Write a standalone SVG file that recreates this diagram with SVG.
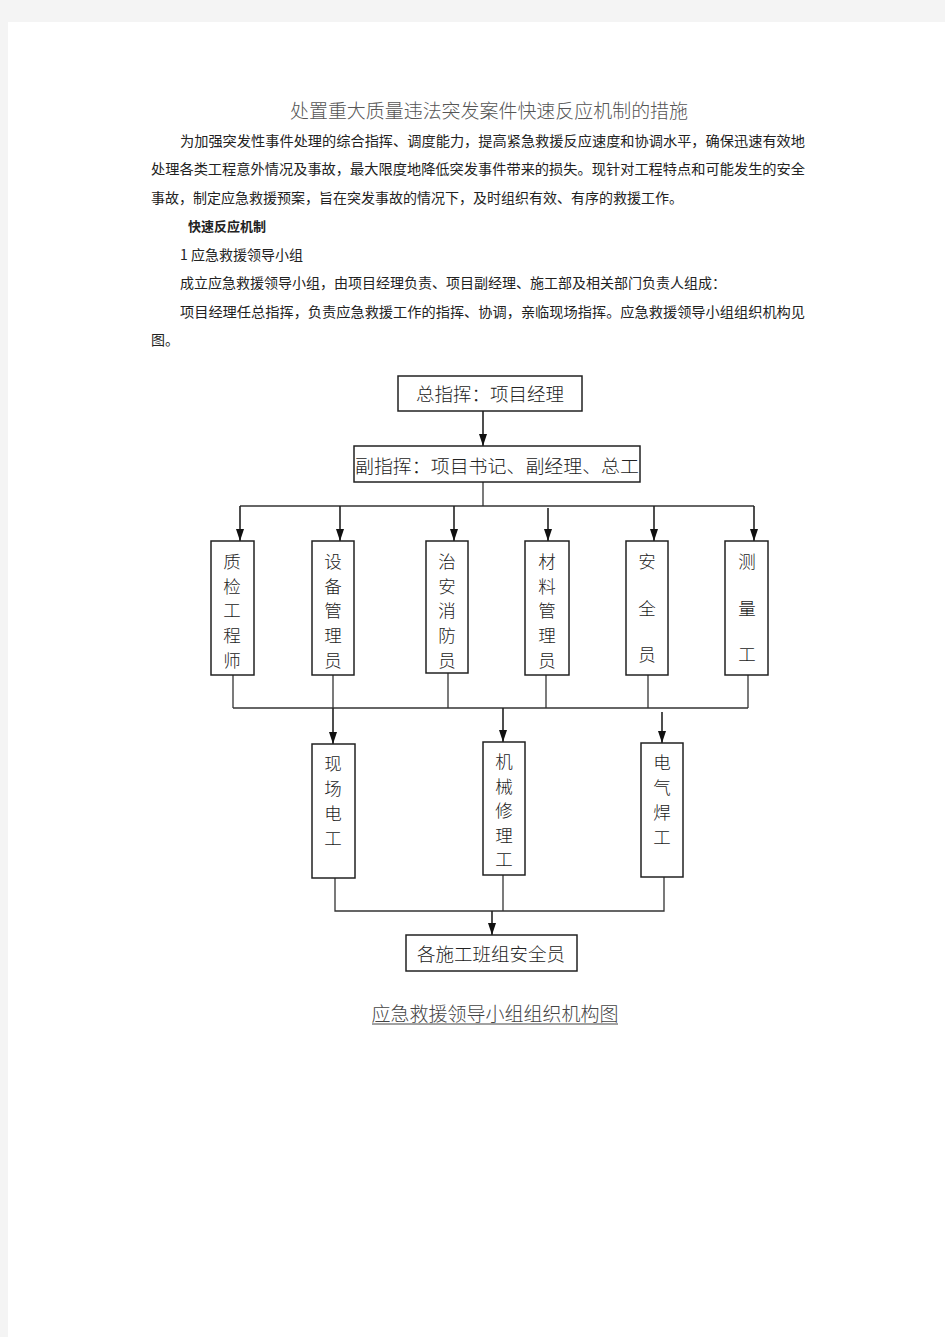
<svg xmlns="http://www.w3.org/2000/svg" width="945" height="1337" viewBox="0 0 945 1337">
<style>
.body{font-family:"Noto Sans CJK SC","Noto Sans",sans-serif;font-size:14px;fill:#222;}
.bold{font-weight:bold;font-size:13px;}
.title{font-family:"Noto Sans CJK SC",sans-serif;font-weight:300;font-size:19px;fill:#555;}
.box{fill:#fff;stroke:#222;stroke-width:1.5;}
.lbl{font-family:"Noto Sans CJK SC",sans-serif;font-weight:300;font-size:18.5px;fill:#222;text-anchor:middle;dominant-baseline:central;}
.vl{font-family:"Noto Sans CJK SC",sans-serif;font-weight:300;font-size:17.5px;fill:#222;text-anchor:middle;dominant-baseline:central;}
.ln{fill:none;stroke:#333;stroke-width:1.3;}
.ar{fill:none;stroke:#222;stroke-width:1.6;marker-end:url(#ah);}
.cap{font-family:"Noto Sans CJK SC",sans-serif;font-weight:300;font-size:19px;fill:#444;text-anchor:middle;}
</style>
<defs>
<marker id="ah" viewBox="0 0 12 8" refX="12" refY="4" markerWidth="12" markerHeight="8" markerUnits="userSpaceOnUse" orient="auto">
<path d="M0,0 L12,4 L0,8 z" fill="#111"/>
</marker>
</defs>
<rect x="0" y="0" width="945" height="1337" fill="#f4f4f4"/>
<rect x="8" y="22" width="937" height="1315" fill="#fff"/>

<g id="text">
<text class="title" x="290" y="118" textLength="398" lengthAdjust="spacingAndGlyphs">处置重大质量违法突发案件快速反应机制的措施</text>
<text class="body" x="180" y="146" textLength="625" lengthAdjust="spacingAndGlyphs">为加强突发性事件处理的综合指挥、调度能力，提高紧急救援反应速度和协调水平，确保迅速有效地</text>
<text class="body" x="151" y="174" textLength="654" lengthAdjust="spacingAndGlyphs">处理各类工程意外情况及事故，最大限度地降低突发事件带来的损失。现针对工程特点和可能发生的安全</text>
<text class="body" x="151" y="203">事故，制定应急救援预案，旨在突发事故的情况下，及时组织有效、有序的救援工作。</text>
<text class="body bold" x="188" y="231">快速反应机制</text>
<text class="body" x="180" y="260">1 应急救援领导小组</text>
<text class="body" x="180" y="288">成立应急救援领导小组，由项目经理负责、项目副经理、施工部及相关部门负责人组成：</text>
<text class="body" x="180" y="317" textLength="625" lengthAdjust="spacingAndGlyphs">项目经理任总指挥，负责应急救援工作的指挥、协调，亲临现场指挥。应急救援领导小组组织机构见</text>
<text class="body" x="151" y="345">图。</text>
</g>

<g id="connectors">
<line class="ar" x1="483" y1="411" x2="483" y2="446"/>
<polyline class="ln" points="483,482 483,506"/>
<line class="ln" x1="240" y1="506" x2="754" y2="506"/>
<line class="ar" x1="240" y1="506" x2="240" y2="541"/>
<line class="ar" x1="340" y1="506" x2="340" y2="541"/>
<line class="ar" x1="454" y1="506" x2="454" y2="541"/>
<line class="ar" x1="548" y1="508" x2="548" y2="541"/>
<line class="ar" x1="654" y1="506" x2="654" y2="541"/>
<line class="ar" x1="754" y1="506" x2="754" y2="541"/>
<line class="ln" x1="233" y1="675" x2="233" y2="708"/>
<line class="ln" x1="333" y1="675" x2="333" y2="708"/>
<line class="ln" x1="448" y1="673" x2="448" y2="708"/>
<line class="ln" x1="546" y1="675" x2="546" y2="708"/>
<line class="ln" x1="648" y1="675" x2="648" y2="708"/>
<line class="ln" x1="748" y1="675" x2="748" y2="708"/>
<line class="ln" x1="233" y1="708" x2="748" y2="708"/>
<line class="ar" x1="333" y1="708" x2="333" y2="744"/>
<line class="ar" x1="503" y1="708" x2="503" y2="742"/>
<line class="ar" x1="662" y1="712" x2="662" y2="743"/>
<polyline class="ln" points="335,878 335,911 664,911 664,877"/>
<line class="ln" x1="503" y1="875" x2="503" y2="911"/>
<line class="ar" x1="492" y1="911" x2="492" y2="935"/>
</g>

<g id="n-zong">
<rect class="box" x="398" y="376" width="184" height="35"/>
<text class="lbl" x="490" y="393">总指挥：项目经理</text>
</g>
<g id="n-fu">
<rect class="box" x="354" y="446" width="286" height="36"/>
<text class="lbl" x="497" y="465" textLength="284" lengthAdjust="spacingAndGlyphs">副指挥：项目书记、副经理、总工</text>
</g>

<g id="n-zhijian">
<rect class="box" x="211" y="541" width="43" height="134"/>
<text class="vl" x="232" y="560">质</text><text class="vl" x="232" y="585">检</text><text class="vl" x="232" y="609">工</text><text class="vl" x="232" y="634">程</text><text class="vl" x="232" y="659">师</text>
</g>
<g id="n-shebei">
<rect class="box" x="312" y="541" width="42" height="134"/>
<text class="vl" x="333" y="560">设</text><text class="vl" x="333" y="585">备</text><text class="vl" x="333" y="609">管</text><text class="vl" x="333" y="634">理</text><text class="vl" x="333" y="659">员</text>
</g>
<g id="n-zhian">
<rect class="box" x="426" y="541" width="42" height="132"/>
<text class="vl" x="447" y="560">治</text><text class="vl" x="447" y="585">安</text><text class="vl" x="447" y="609">消</text><text class="vl" x="447" y="634">防</text><text class="vl" x="447" y="659">员</text>
</g>
<g id="n-cailiao">
<rect class="box" x="525" y="541" width="44" height="134"/>
<text class="vl" x="547" y="560">材</text><text class="vl" x="547" y="585">料</text><text class="vl" x="547" y="609">管</text><text class="vl" x="547" y="634">理</text><text class="vl" x="547" y="659">员</text>
</g>
<g id="n-anquan">
<rect class="box" x="626" y="541" width="42" height="134"/>
<text class="vl" x="647" y="560">安</text><text class="vl" x="647" y="607">全</text><text class="vl" x="647" y="653">员</text>
</g>
<g id="n-celiang">
<rect class="box" x="725" y="541" width="43" height="134"/>
<text class="vl" x="747" y="560">测</text><text class="vl" x="747" y="607">量</text><text class="vl" x="747" y="653">工</text>
</g>

<g id="n-xianchang">
<rect class="box" x="312" y="744" width="43" height="134"/>
<text class="vl" x="333" y="762">现</text><text class="vl" x="333" y="787">场</text><text class="vl" x="333" y="812">电</text><text class="vl" x="333" y="837">工</text>
</g>
<g id="n-jixie">
<rect class="box" x="483" y="742" width="42" height="133"/>
<text class="vl" x="504" y="760">机</text><text class="vl" x="504" y="785">械</text><text class="vl" x="504" y="809">修</text><text class="vl" x="504" y="834">理</text><text class="vl" x="504" y="858">工</text>
</g>
<g id="n-dianqi">
<rect class="box" x="641" y="743" width="42" height="134"/>
<text class="vl" x="662" y="761">电</text><text class="vl" x="662" y="786">气</text><text class="vl" x="662" y="811">焊</text><text class="vl" x="662" y="836">工</text>
</g>

<g id="n-banzu">
<rect class="box" x="406" y="935" width="171" height="36"/>
<text class="lbl" x="491" y="953">各施工班组安全员</text>
</g>

<g id="caption">
<text class="cap" x="495" y="1021">应急救援领导小组组织机构图</text>
<line x1="372" y1="1024" x2="618" y2="1024" stroke="#444" stroke-width="1"/>
</g>
</svg>
